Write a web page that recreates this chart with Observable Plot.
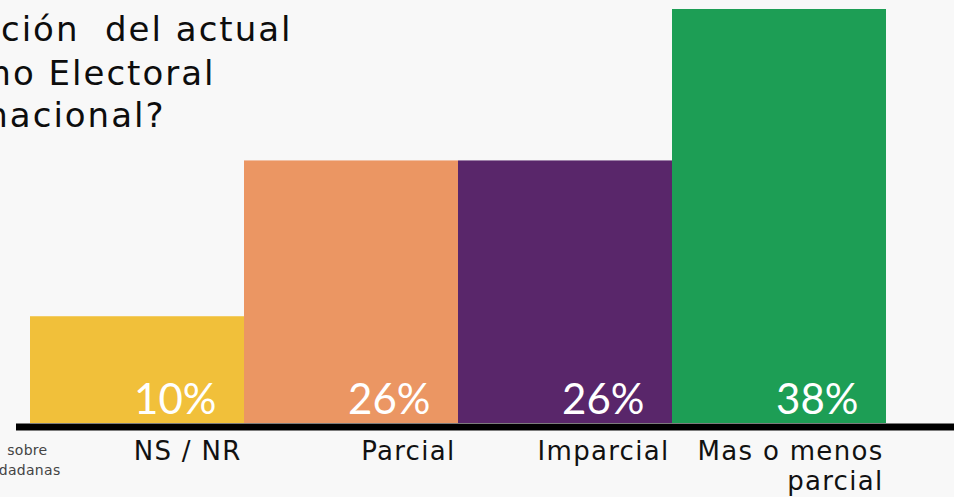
<!DOCTYPE html>
<html>
<head>
<meta charset="utf-8">
<script src="https://cdn.jsdelivr.net/npm/d3@7"></script>
<script src="https://cdn.jsdelivr.net/npm/@observablehq/plot@0.6"></script>
<style>
  html, body { margin: 0; padding: 0; background: #f8f8f8; overflow: hidden; }
  #chart { width: 954px; height: 497px; }
</style>
</head>
<body>
<div id="chart"></div>
<script>
// Data
const categories = ["NS / NR", "Parcial", "Imparcial", "Mas o menos\nparcial"];
const barValues = [9.8, 24.1, 24.1, 38];          // bar heights as drawn
const shareLabels = ["10%", "26%", "26%", "38%"];  // printed percentages
const barColors = ["#F1C03A", "#EB9663", "#59266A", "#1D9E55"];
const titleLines = ["¿Cuál es su percepción  del actual", "Organismo Electoral", "Plurinacional?"];
const noteLines = ["sobre", "dadanas"];

const rows = categories.map((c, i) => ({cat: c, value: barValues[i], label: shareLabels[i], color: barColors[i]}));

const titleRight = [292, 215, 165];
const titleBase = [7, 51, 93];
const geo = "'DejaVu Sans', sans-serif";

const marks = [
  Plot.barY(rows, {x: "cat", y: "value", fill: "color"}),
  Plot.ruleY([0], {stroke: "#000", strokeWidth: 7, insetLeft: -13, insetRight: -68, dy: 3.5}),
  Plot.text(rows, {x: "cat", y: 0, text: "label", fill: "#fff", fontSize: 42, fontFamily: "Lato, sans-serif", textAnchor: "end", lineAnchor: "top", dx: 79, dy: -39}),
  Plot.text(rows, {x: "cat", y: 0, text: "cat", fill: "#111", fontSize: 26, fontFamily: geo, textAnchor: "end", lineAnchor: "top", lineHeight: 1.16, dx: 104, dy: 15}),
  ...titleLines.map((t, i) => Plot.text([t], {text: d => d, frameAnchor: "top-left", textAnchor: "end", lineAnchor: "top", fontSize: 34, fontFamily: geo, fill: "#0d0d0d", dx: titleRight[i] - 29, dy: titleBase[i]})),
  ...noteLines.map((t, i) => Plot.text([t], {text: d => d, frameAnchor: "bottom-left", textAnchor: "end", lineAnchor: "top", fontSize: 14, fontFamily: geo, fill: "#444", dx: [18, 31][i], dy: [22, 42][i]}))
];

const chart = Plot.plot({
  width: 954,
  height: 497,
  marginTop: 9,
  marginBottom: 74,
  marginLeft: 29,
  marginRight: 68,
  style: {background: "#f8f8f8", fontFamily: "Lato, sans-serif", overflow: "visible"},
  x: {domain: categories, padding: 0, axis: null},
  y: {domain: [0, 38], axis: null},
  marks
});
// letter spacing to approximate the wide geometric typeface
const textGroups = d3.select(chart).selectAll('g[aria-label="text"]').nodes();
textGroups.forEach((g, i) => {
  if (i === 1) g.style.letterSpacing = "1.3px";
  else if (i >= 2 && i <= 4) g.style.letterSpacing = "2px";
  else if (i >= 5) g.style.letterSpacing = "0.3px";
});
document.getElementById("chart").appendChild(chart);
</script>
</body>
</html>
